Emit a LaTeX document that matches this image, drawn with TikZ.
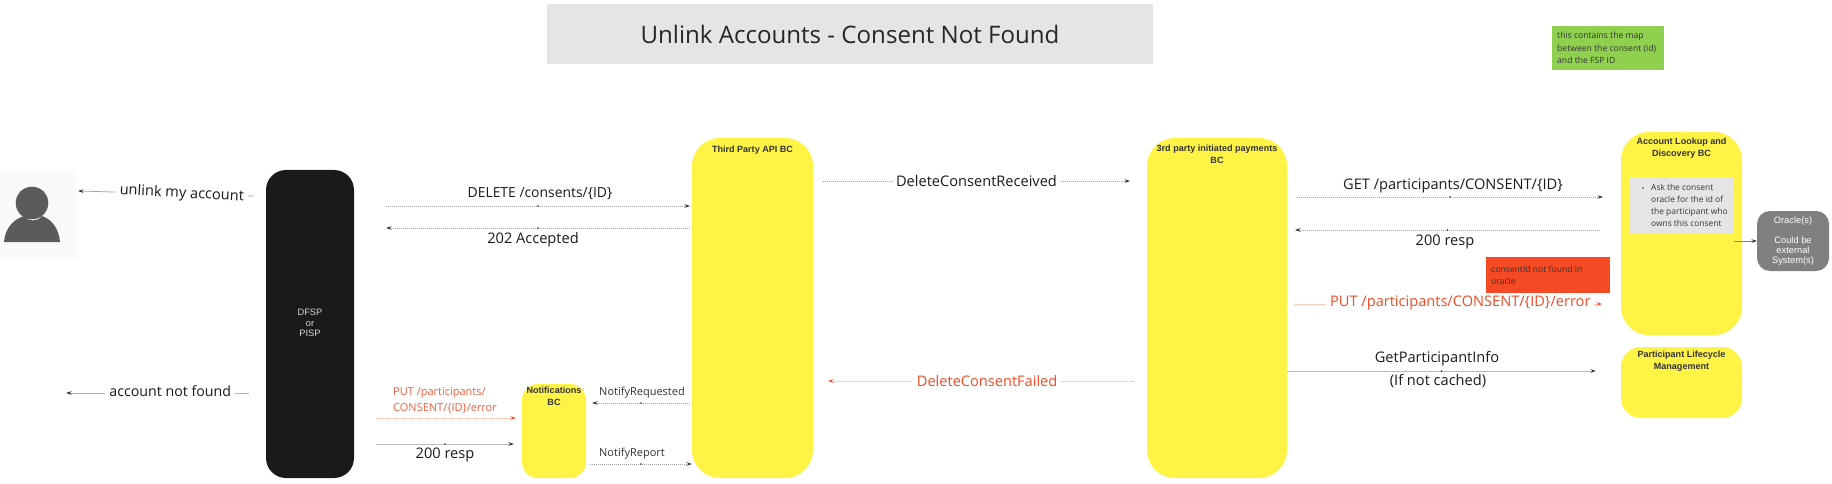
\documentclass[tikz,border=0pt]{standalone}
\usepackage{fontspec}
\setmainfont{Open Sans}
\newfontfamily\helv{Liberation Sans}
\usetikzlibrary{arrows.meta,decorations.markings}
\definecolor{bcyellow}{HTML}{FFF345}
\definecolor{dfspblack}{HTML}{1A1A1A}
\definecolor{titlegrey}{HTML}{E5E5E5}
\definecolor{noteorange}{HTML}{F44B25}
\definecolor{notegreen}{HTML}{8FD14F}
\definecolor{oraclegrey}{HTML}{808080}
\definecolor{iconfill}{HTML}{5A5C5B}
\definecolor{labelblack}{HTML}{1A1A1A}
\tikzset{
  x=1pt,y=-1pt,
  base/.style={inner sep=0pt,outer sep=0pt,anchor=north west},
  bcbox/.style={base,fill=bcyellow},
  bctitle/.style={font=\helv\bfseries\fontsize{9.05}{11.6}\selectfont,text=black!80,align=center,anchor=north,inner sep=0pt},
  midmark/.style={postaction={decorate,decoration={markings,mark=at position 0.5 with {\fill[#1] (0,0) circle (.9pt);}}}},
  midmark/.default=black!80,
  tip/.style={-{Stealth[length=5.5pt,width=3.5pt,black!80]}},
  tipred/.style={-{Stealth[length=5.5pt,width=3.5pt,noteorange]}},
  dotline/.style={tip,draw=black!36,line width=.55pt,dash pattern=on .9pt off 1.1pt,midmark},
  dotred/.style={tipred,draw=noteorange!45,line width=.55pt,dash pattern=on .9pt off 1.1pt},
  solidline/.style={tip,draw=black!28,line width=1pt,midmark},
  lbl/.style={font=\fontsize{14.6}{17}\selectfont,text=labelblack,inner sep=0pt},
  lblsmall/.style={font=\fontsize{11}{16}\selectfont,text=black!80,inner sep=0pt},
  lblred/.style={lbl,text=noteorange},
  onwhite/.style={fill=white,inner xsep=4pt,inner ysep=3pt},
  notetext/.style={font=\fontsize{8.6}{12.4}\selectfont,text=black!80,align=left},
}
\begin{document}
\begin{tikzpicture}
\useasboundingbox (0,0) rectangle (1832,484);
% title
\node[base,fill=titlegrey,minimum width=606pt,minimum height=60pt] (titlebox) at (547,4) {};
\node[font=\fontsize{24.1}{28}\selectfont,text=black!85,inner sep=0pt] (titletext) at (titlebox.center) {Unlink Accounts - Consent Not Found};
% green note
\node[base,fill=notegreen,minimum width=112pt,minimum height=44pt] (greennote) at (1552,26) {};
\node[notetext,anchor=west,inner sep=0pt] (greentext) at ([xshift=5pt]greennote.west) {this contains the map\\between the consent (id)\\and the FSP ID};
% user icon
\node[base,fill=black!2,minimum width=77pt,minimum height=89pt] (userbg) at (0,170) {};
\fill[iconfill] (4,242) .. controls (5,228) and (14,219) .. (24,216) .. controls (29,222) and (37,222) .. (42,216) .. controls (51,219) and (59,228) .. (60,242) -- cycle;
\fill[iconfill] (32,203) circle (16.3);
% DFSP
\node[base,fill=dfspblack,rounded corners=20pt,minimum width=88pt,minimum height=308pt] (dfsp) at (266,170) {};
\node[font=\helv\fontsize{9.3}{10.4}\selectfont,text=white!85!black,align=center,inner sep=0pt] (dfsptext) at ([yshift=1pt]dfsp.center) {DFSP\\or\\PISP};
% Notifications
\node[bcbox,rounded corners=16pt,minimum width=64pt,minimum height=94pt] (notif) at (522,384) {};
\node[bctitle] (notiftext) at ([yshift=-3pt]notif.north) {Notifications\\BC};
% Third Party
\node[bcbox,rounded corners=28pt,minimum width=121pt,minimum height=340pt] (tp) at (692,138) {};
\node[bctitle] (tptext) at ([yshift=-7.5pt]tp.north) {Third Party API BC};
% 3rd party initiated
\node[bcbox,rounded corners=28pt,minimum width=140pt,minimum height=340pt] (tpi) at (1147,138) {};
\node[bctitle] (tpitext) at ([yshift=-7pt]tpi.north) {3rd party initiated payments\\BC};
% Account lookup
\node[bcbox,rounded corners=28pt,minimum width=121pt,minimum height=203pt] (al) at (1621,132) {};
\node[bctitle] (altext) at ([yshift=-6pt]al.north) {Account Lookup and\\Discovery BC};
\node[base,fill=titlegrey,minimum width=104pt,minimum height=56pt] (algrey) at (1629,177) {};
\node[font=\fontsize{8.4}{11.9}\selectfont,text=black!80,align=left,anchor=west,inner sep=0pt] (algreytext) at ([xshift=22pt]algrey.west) {Ask the consent\\oracle for the id of\\the participant who\\owns this consent};
\fill[black!80] ([xshift=14pt,yshift=17pt]algrey.west) circle (.8pt);
% Participant lifecycle
\node[bcbox,rounded corners=20pt,minimum width=121pt,minimum height=71pt] (pl) at (1621,347) {};
\node[bctitle] (pltext) at ([yshift=-4pt]pl.north) {Participant Lifecycle\\Management};
% Oracle
\node[base,fill=oraclegrey,rounded corners=13pt,minimum width=72pt,minimum height=60pt] (oracle) at (1757,211) {};
\node[font=\helv\fontsize{9.3}{10}\selectfont,text=white,align=center,inner sep=0pt] (oracletext) at (oracle.center) {Oracle(s)\\[10pt]Could be\\external\\System(s)};
% red note
\node[base,fill=noteorange,minimum width=124pt,minimum height=36pt] (rednote) at (1486,257) {};
\node[notetext,anchor=west,inner sep=0pt] (redtext) at ([xshift=5pt]rednote.west) {consentId not found in\\oracle};
% connector ends
\coordinate (a1) at (254,196); \coordinate (a2) at (78,191);
\coordinate (b1) at (249,393); \coordinate (b2) at (66,393);
\coordinate (c1) at (386,206); \coordinate (c2) at (690,206);
\coordinate (d1) at (690,228); \coordinate (d2) at (386,228);
\coordinate (e1) at (823,181); \coordinate (e2) at (1130,181);
\coordinate (f1) at (1297,197); \coordinate (f2) at (1603,197);
\coordinate (g1) at (1600,230); \coordinate (g2) at (1295,230);
\coordinate (h1) at (1294,304); \coordinate (h2) at (1602,304);
\coordinate (i1) at (tpi.east|-0,371); \coordinate (i2) at (1596,371);
\coordinate (j1) at (1134,381); \coordinate (j2) at (828,381);
\coordinate (k1) at (690,403); \coordinate (k2) at (592,403);
\coordinate (l1) at (590,464); \coordinate (l2) at (692,464);
\coordinate (m1) at (376,418); \coordinate (m2) at (516,418);
\coordinate (n1) at (376,444); \coordinate (n2) at (514,444);
\coordinate (o1) at (1734,241); \coordinate (o2) at (oracle.west|-o1);
% connectors
\draw[tip,draw=black!35,line width=.8pt] (a1) -- node[lbl,onwhite,rotate=-3,pos=.41] (la) {unlink my account} (a2);
\draw[tip,draw=black!30,line width=.9pt] (b1) -- node[font=\fontsize{14.2}{17}\selectfont,text=labelblack,fill=white,inner xsep=4pt,inner ysep=3pt,pos=.43,yshift=1.5pt] (lb) {account not found} (b2);
\draw[dotline] (c1) -- (c2);
\node[font=\fontsize{13.9}{17}\selectfont,text=labelblack,inner sep=0pt] (lc) at (540,194) {DELETE /consents/\{ID\}};
\draw[dotline] (d1) -- (d2);
\node[lbl] (ld) at (533,240) {202 Accepted};
\draw[dotline] (e1) -- node[lbl,onwhite] (le) {DeleteConsentReceived} (e2);
\draw[dotline] (f1) -- (f2);
\node[lbl] (lf) at (1453,186) {GET /participants/CONSENT/\{ID\}};
\draw[dotline] (g1) -- (g2);
\node[lbl] (lg) at (1445,242) {200 resp};
\draw[dotred] (h1) -- node[lblred,onwhite,pos=.54,yshift=1pt] (lh) {PUT /participants/CONSENT/\{ID\}/error} (h2);
\draw[solidline] (i1) -- (i2);
\node[lbl] (li) at (1437,359) {GetParticipantInfo};
\node[lbl] (li2) at (1438,381) {(If not cached)};
\draw[dotred] (j1) -- node[lblred,onwhite,pos=.48] (lj) {DeleteConsentFailed} (j2);
\draw[dotline,line width=.9pt] (k1) -- (k2);
\node[lblsmall] (lk) at (642,393) {NotifyRequested};
\draw[dotline,line width=.9pt] (l1) -- (l2);
\node[lblsmall] (ll) at (632,454) {NotifyReport};
\draw[dotred] (m1) -- (m2);
\node[font=\fontsize{11}{16}\selectfont,text=noteorange!90,align=left,anchor=west,inner sep=0pt] (lm) at (393,400) {PUT /participants/\\CONSENT/\{ID\}/error};
\draw[solidline] (n1) -- (n2);
\node[lbl] (ln) at (445,455) {200 resp};
\draw[tip,draw=black!50,line width=.7pt] (o1) -- (o2);
\end{tikzpicture}
\end{document}
